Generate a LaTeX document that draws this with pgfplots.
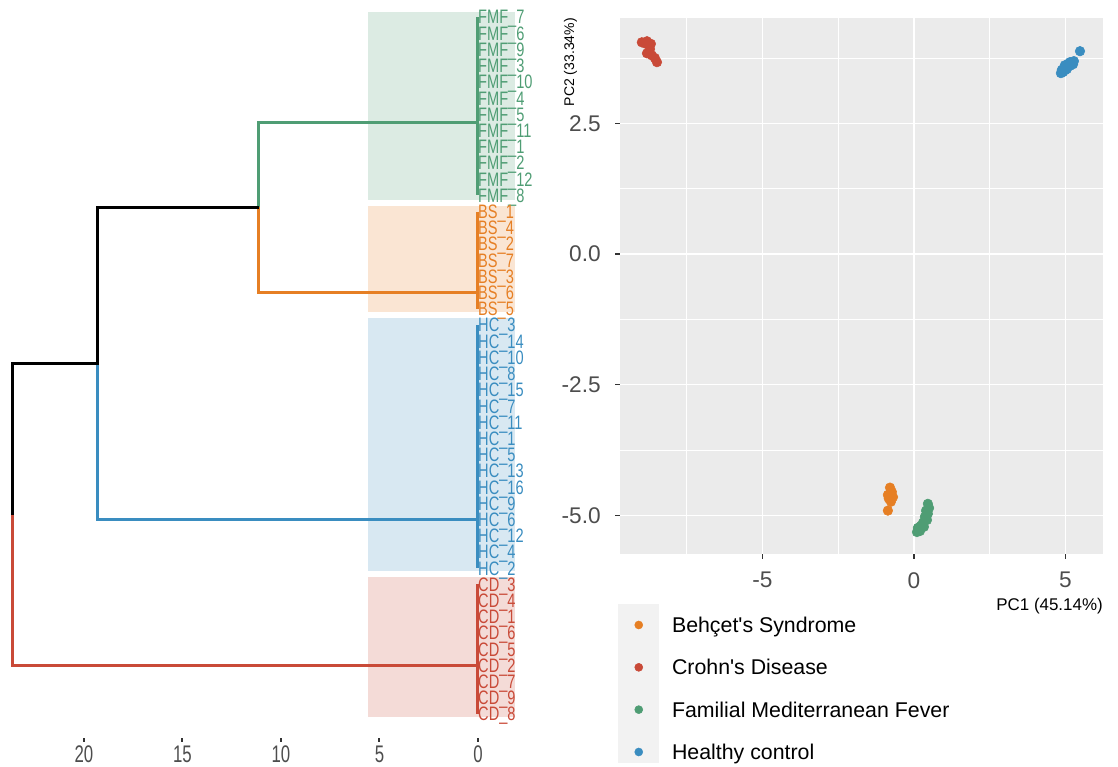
\documentclass[border=0pt]{standalone}
\usepackage{fontspec}
\setmainfont{Liberation Sans}
% left panel text is horizontally squeezed in the reference
\newfontfamily\leaffont[FakeStretch=0.75]{Liberation Sans}
\newfontfamily\dtickfont[FakeStretch=0.7]{Liberation Sans}
\usepackage{pgfplots}
\pgfplotsset{compat=1.18}

\definecolor{cBS}{HTML}{E67F24}
\definecolor{cCD}{HTML}{C94A38}
\definecolor{cFMF}{HTML}{4F9D74}
\definecolor{cHC}{HTML}{3A8DC0}
\definecolor{panel}{HTML}{EBEBEB}
\definecolor{keybg}{HTML}{F2F2F2}
\definecolor{tickc}{HTML}{333333}
\definecolor{tlab}{HTML}{4D4D4D}

\begin{document}
\begin{tikzpicture}
\useasboundingbox (0,0) rectangle (838.5pt,575.25pt);
% legend key background
\fill[keybg] (463.5pt,3pt) rectangle (494.25pt,122.25pt);

%% ---------------- dendrogram ----------------
\begin{axis}[
  at={(0pt,21.75pt)}, anchor=south west,
  scale only axis, width=405pt, height=553.5pt,
  x dir=reverse, xmin=-3.15, xmax=24.26, ymin=-0.48, ymax=45.05,
  clip=false, axis line style={draw=none},
  ytick=\empty, xtick={0,5,10,15,20}, xticklabels={0,5,10,15,20},
  xtick pos=bottom, tick align=outside, major tick length=3pt,
  tick style={color=tickc, line width=1.5pt},
  xticklabel style={anchor=north, inner sep=0pt, yshift=-2.9pt,
    font=\dtickfont\fontsize{18pt}{18pt}\selectfont, text=tlab},
  every node near coord/.append style={anchor=base west, inner sep=0pt,
    yshift=-5.23pt, font=\leaffont\fontsize{14.6pt}{14.6pt}\selectfont},
]
% cluster rectangles
\addplot[draw=none, fill=cFMF!20] coordinates {(5.6,44.31) (-1.88,44.31) (-1.88,32.71) (5.6,32.71)};
\addplot[draw=none, fill=cBS!20]  coordinates {(5.6,32.34) (-1.88,32.34) (-1.88,25.80) (5.6,25.80)};
\addplot[draw=none, fill=cHC!20]  coordinates {(5.6,25.43) (-1.88,25.43) (-1.88,9.82) (5.6,9.82)};
\addplot[draw=none, fill=cCD!20]  coordinates {(5.6,9.45) (-1.88,9.45) (-1.88,0.82) (5.6,0.82)};

% branches
\begin{scope}[line width=2.25pt]
\addplot[cFMF, mark=none] coordinates {(0,44) (0,33)};
\addplot[cFMF, mark=none] coordinates {(0,37.5) (11.12,37.5) (11.12,32.25)};
\addplot[cBS, mark=none] coordinates {(0,32) (0,26)};
\addplot[cBS, mark=none] coordinates {(0,27) (11.12,27) (11.12,32.25)};
\addplot[cHC, mark=none] coordinates {(0,25) (0,10)};
\addplot[cHC, mark=none] coordinates {(0,13) (19.29,13) (19.29,22.625)};
\addplot[cCD, mark=none] coordinates {(0,9) (0,1)};
\addplot[cCD, mark=none] coordinates {(0,4) (23.6,4) (23.6,13.3)};
\addplot[black, mark=none] coordinates {(11.12,32.25) (19.29,32.25) (19.29,22.625) (23.6,22.625) (23.6,13.3)};
\end{scope}

% leaf labels
\addplot[draw=none, mark=none, point meta=explicit symbolic,
  nodes near coords={FMF\_\pgfplotspointmeta},
  every node near coord/.append style={text=cFMF}] table[meta=id] {
x y id
0 44 7
0 43 6
0 42 9
0 41 3
0 40 10
0 39 4
0 38 5
0 37 11
0 36 1
0 35 2
0 34 12
0 33 8
};
\addplot[draw=none, mark=none, point meta=explicit symbolic,
  nodes near coords={BS\_\pgfplotspointmeta},
  every node near coord/.append style={text=cBS}] table[meta=id] {
x y id
0 32 1
0 31 4
0 30 2
0 29 7
0 28 3
0 27 6
0 26 5
};
\addplot[draw=none, mark=none, point meta=explicit symbolic,
  nodes near coords={HC\_\pgfplotspointmeta},
  every node near coord/.append style={text=cHC}] table[meta=id] {
x y id
0 25 3
0 24 14
0 23 10
0 22 8
0 21 15
0 20 7
0 19 11
0 18 1
0 17 5
0 16 13
0 15 16
0 14 9
0 13 6
0 12 12
0 11 4
0 10 2
};
\addplot[draw=none, mark=none, point meta=explicit symbolic,
  nodes near coords={CD\_\pgfplotspointmeta},
  every node near coord/.append style={text=cCD}] table[meta=id] {
x y id
0 9 3
0 8 4
0 7 1
0 6 6
0 5 5
0 4 2
0 3 7
0 2 9
0 1 8
};
\end{axis}

%% ---------------- PCA scatter ----------------
\begin{axis}[
  at={(465pt,159.75pt)}, anchor=south west,
  scale only axis, width=362.25pt, height=402pt,
  xmin=-9.70, xmax=6.24, ymin=-5.74, ymax=4.515,
  axis background/.style={fill=panel},
  axis line style={draw=none},
  xtick={-5,0,5}, xticklabels={-5,0,5},
  ytick={-5,-2.5,0,2.5}, yticklabels={-5.0,-2.5,0.0,2.5},
  minor xtick={-7.5,-2.5,2.5}, minor ytick={-3.75,-1.25,1.25,3.75},
  grid=both,
  major grid style={white, line width=1.1pt},
  minor grid style={white, line width=0.55pt},
  xtick pos=bottom, ytick pos=left, tick align=outside,
  major tick length=3.75pt, minor tick length=0pt,
  tick style={color=tickc, line width=1.1pt},
  ticklabel style={font=\fontsize{17pt}{17pt}\selectfont, text=tlab, inner sep=0pt},
  xticklabel style={anchor=north, yshift=-9.75pt},
  yticklabel style={anchor=east, xshift=-10.5pt},
  xlabel={PC1 (45.14\%)},
  xlabel style={at={(axis description cs:1,-0.1063)}, anchor=base east,
    font=\fontsize{12.7pt}{13pt}\selectfont, inner sep=0pt},
  ylabel={PC2 (33.34\%)},
  ylabel style={at={(axis description cs:-0.0952,1)}, anchor=base east,
    font=\fontsize{10.5pt}{11pt}\selectfont, inner sep=0pt},
  legend style={at={(axis description cs:0.030,-0.1182)}, anchor=north west,
    draw=none, fill=none, inner sep=0pt, outer sep=0pt, row sep=20.29pt,
    font=\fontsize{16pt}{16pt}\selectfont,
    nodes={inner sep=0pt, text height=11.46pt, text depth=0pt},
    /tikz/every odd column/.append style={column sep=21.75pt}},
  legend cell align=left,
]
% Behcet's Syndrome
\addplot[only marks, mark=*, mark size=3.6pt, mark options={draw=cBS, fill=cBS}, forget plot] coordinates {
(-0.79,-4.47) (-0.73,-4.55) (-0.86,-4.61) (-0.69,-4.65) (-0.83,-4.68) (-0.76,-4.74) (-0.86,-4.91)
};
% Crohn's Disease
\addplot[only marks, mark=*, mark size=3.6pt, mark options={draw=cCD, fill=cCD}, forget plot] coordinates {
(-8.98,4.05) (-8.81,4.07) (-8.88,4.03) (-8.68,4.02) (-8.71,3.92) (-8.81,3.84) (-8.65,3.80) (-8.55,3.75) (-8.48,3.67)
};
% Familial Mediterranean Fever
\addplot[only marks, mark=*, mark size=3.6pt, mark options={draw=cFMF, fill=cFMF}, forget plot] coordinates {
(0.46,-4.78) (0.50,-4.86) (0.40,-4.91) (0.46,-4.97) (0.36,-5.03) (0.43,-5.09)
(0.30,-5.14) (0.23,-5.20) (0.13,-5.24) (0.20,-5.30) (0.10,-5.32) (0.33,-5.22)
};
% Healthy control
\addplot[only marks, mark=*, mark size=3.6pt, mark options={draw=cHC, fill=cHC}, forget plot] coordinates {
(4.85,3.46) (4.88,3.52) (4.92,3.48) (4.95,3.56) (4.98,3.61) (5.02,3.59) (5.05,3.54) (5.08,3.63)
(5.12,3.65) (5.15,3.67) (5.21,3.67) (5.25,3.63) (5.28,3.69) (5.00,3.52) (5.15,3.60) (5.48,3.88)
};

\addlegendimage{legend image code/.code={\fill[cBS] (0pt,0pt) circle (3pt);}}
\addlegendentry{Behçet\textquotesingle s Syndrome}
\addlegendimage{legend image code/.code={\fill[cCD] (0pt,0pt) circle (3pt);}}
\addlegendentry{Crohn\textquotesingle s Disease}
\addlegendimage{legend image code/.code={\fill[cFMF] (0pt,0pt) circle (3pt);}}
\addlegendentry{Familial Mediterranean Fever}
\addlegendimage{legend image code/.code={\fill[cHC] (0pt,0pt) circle (3pt);}}
\addlegendentry{Healthy control}
\end{axis}
\end{tikzpicture}
\end{document}
